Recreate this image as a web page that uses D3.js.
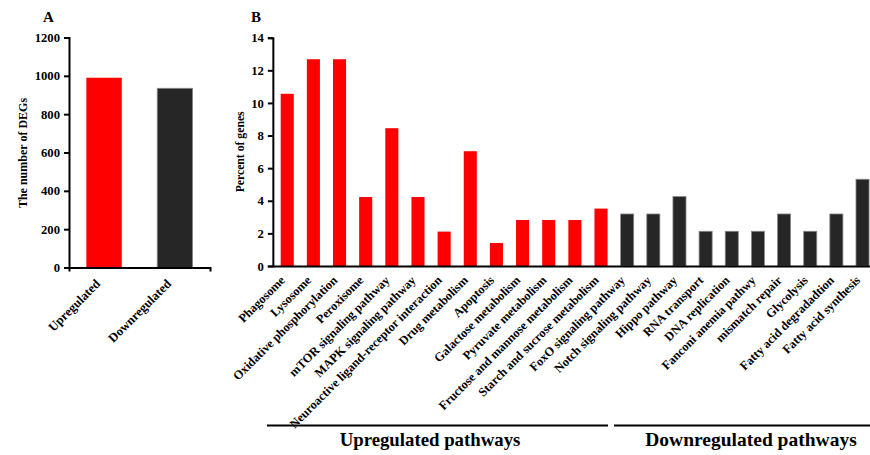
<!DOCTYPE html>
<html>
<head>
<meta charset="utf-8">
<script src="https://cdn.jsdelivr.net/npm/d3@7"></script>
<style>
  html, body { margin: 0; padding: 0; background: #fff; }
  svg { display: block; }
  text { font-family: "Liberation Serif", "Times New Roman", serif; font-weight: bold; fill: #000; }
</style>
</head>
<body>
<svg id="chart" width="870" height="455"></svg>
<script>
// ---- Panel A data ----
const degCategories = ["Upregulated", "Downregulated"];
const degCounts = [990, 935];
const degTicks = [0, 200, 400, 600, 800, 1000, 1200];

// ---- Panel B data ----
const upPathways = ["Phagosome", "Lysosome", "Oxidative phosphorylation", "Peroxisome",
  "mTOR signaling pathway", "MAPK signaling pathway", "Neuroactive ligand-receptor interaction",
  "Drug metabolism", "Apoptosis", "Galactose metabolism", "Pyruvate metabolism",
  "Fructose and mannose metabolism", "Starch and sucrose metabolism"];
const upPercent = [10.56, 12.68, 12.68, 4.23, 8.45, 4.23, 2.11, 7.04, 1.41, 2.82, 2.82, 2.82, 3.52];
const downPathways = ["FoxO signaling pathway", "Notch signaling pathway", "Hippo pathway",
  "RNA transport", "DNA replication", "Fanconi anemia pathwy", "mismatch repair", "Glycolysis",
  "Fatty acid degradadtion", "Fatty acid synthesis"];
const downPercent = [3.19, 3.19, 4.26, 2.13, 2.13, 2.13, 3.19, 2.13, 3.19, 5.32];
const pctTicks = [0, 2, 4, 6, 8, 10, 12, 14];
const groupLabels = ["Upregulated pathways", "Downregulated pathways"];

const RED = "#ff0000", DARK = "#262626";
const svg = d3.select("#chart");

function styleAxis(g) {
  g.selectAll(".domain").attr("stroke", "#000").attr("stroke-width", 2);
  g.selectAll(".tick line").attr("stroke", "#000").attr("stroke-width", 2);
  g.selectAll(".tick text").attr("font-family", '"Liberation Serif", "Times New Roman", serif')
    .attr("font-weight", "bold").attr("font-size", "12.7px").attr("fill", "#000");
}

// ================= Panel A =================
{
  const x = d3.scaleBand().domain(degCategories).range([69, 210]).paddingInner(0.5).paddingOuter(0.245);
  const y = d3.scaleLinear().domain([0, 1200]).range([267.5, 37.5]);
  const g = svg.append("g");

  g.selectAll("rect.bar").data(degCategories).join("rect")
    .attr("x", d => x(d)).attr("width", x.bandwidth())
    .attr("y", (d, i) => y(degCounts[i])).attr("height", (d, i) => y(0) - y(degCounts[i]))
    .attr("fill", (d, i) => i === 0 ? RED : DARK)
    .attr("stroke", (d, i) => i === 0 ? "none" : "#8a8a8a").attr("stroke-width", 0.8);

  const ya = g.append("g").attr("transform", "translate(69,0)")
    .call(d3.axisLeft(y).tickValues(degTicks).tickSize(5).tickPadding(4).tickFormat(d3.format("d")));
  styleAxis(ya);

  const xa = g.append("g").attr("transform", `translate(0,${y(0)})`)
    .call(d3.axisBottom(x).tickSize(0).tickSizeOuter(4).tickFormat(""));
  styleAxis(xa);

  g.selectAll("text.xl").data(degCategories).join("text")
    .attr("class", "xl")
    .attr("transform", d => `translate(${x(d) + x.bandwidth() / 2 - 3},${y(0) + 17}) rotate(-45)`)
    .attr("text-anchor", "end").attr("font-size", "12.7px").text(d => d);

  g.append("text").attr("transform", `translate(27,153) rotate(-90)`)
    .attr("text-anchor", "middle").attr("font-size", "12px").text("The number of DEGs");

  g.append("text").attr("x", 43).attr("y", 22).attr("font-size", "15px").text("A");
}

// ================= Panel B =================
{
  const cats = upPathways.concat(downPathways);
  const vals = upPercent.concat(downPercent);
  const nUp = upPathways.length;
  const x = d3.scaleBand().domain(cats).range([272.85, 876.9]).paddingInner(0.5).paddingOuter(0.3);
  const y = d3.scaleLinear().domain([0, 14]).range([266, 37.7]);
  const g = svg.append("g");

  g.selectAll("rect.bar").data(cats).join("rect")
    .attr("x", d => x(d)).attr("width", x.bandwidth())
    .attr("y", (d, i) => y(vals[i])).attr("height", (d, i) => y(0) - y(vals[i]))
    .attr("fill", (d, i) => i < nUp ? RED : DARK)
    .attr("stroke", (d, i) => i < nUp ? "none" : "#8a8a8a").attr("stroke-width", 0.8);

  const ya = g.append("g").attr("transform", "translate(272.85,0)")
    .call(d3.axisLeft(y).tickValues(pctTicks).tickSize(5).tickPadding(4).tickFormat(d3.format("d")));
  styleAxis(ya);

  const xa = g.append("g").attr("transform", `translate(0,${y(0)})`)
    .call(d3.axisBottom(x).tickSize(0).tickSizeOuter(0).tickFormat(""));
  styleAxis(xa);

  g.selectAll("text.xl").data(cats).join("text")
    .attr("class", "xl")
    .attr("transform", d => `translate(${x(d) + x.bandwidth() / 2 - 1.5},${y(0) + 15}) rotate(-45)`)
    .attr("text-anchor", "end").attr("font-size", "12.4px").text(d => d);

  g.append("text").attr("transform", `translate(244,${(y(0) + y(14)) / 2}) rotate(-90)`)
    .attr("text-anchor", "middle").attr("font-size", "11.7px").text("Percent of genes");

  g.append("text").attr("x", 251).attr("y", 22).attr("font-size", "15px").text("B");

  // group brackets
  const brackets = [
    { x1: 267, x2: 608, tx: 430 },
    { x1: 614, x2: 870, tx: 751 }
  ];
  g.selectAll("line.br").data(brackets).join("line")
    .attr("x1", d => d.x1).attr("x2", d => d.x2).attr("y1", 425.5).attr("y2", 425.5)
    .attr("stroke", "#000").attr("stroke-width", 2);
  g.selectAll("text.gl").data(groupLabels).join("text")
    .attr("x", (d, i) => brackets[i].tx).attr("y", 446)
    .attr("text-anchor", "middle").attr("font-size", (d, i) => i === 0 ? "18.8px" : "19.5px").text(d => d);
}
</script>
</body>
</html>
